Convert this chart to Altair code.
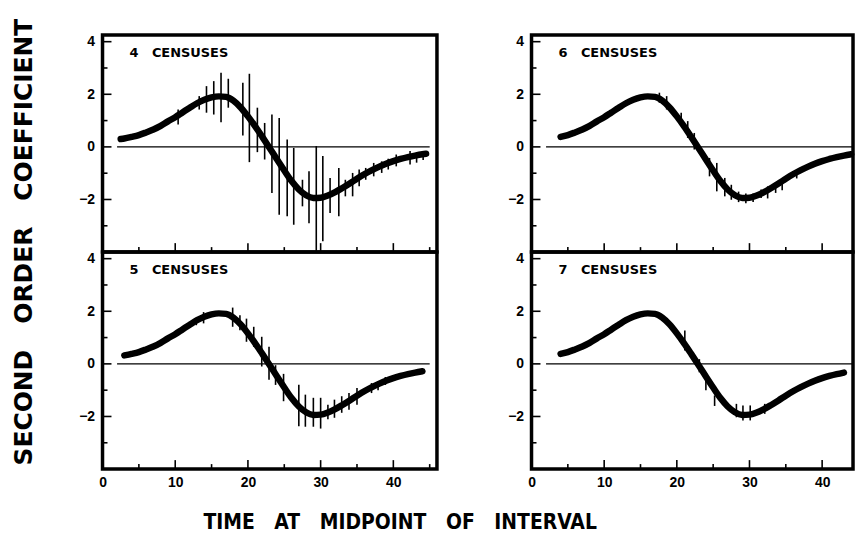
import altair as alt
import pandas as pd

# ---------------- data ----------------
curve_x = [2.5, 3, 4, 5, 6, 7, 8, 9, 10, 11, 12, 13, 14, 15, 16, 17, 18, 19, 20, 21,
           22, 23, 24, 25, 26, 27, 28, 29, 30, 31, 32, 33, 34, 35, 36, 37, 38, 39, 40,
           41, 42, 43, 44, 44.5]
curve_y = [0.30, 0.32, 0.38, 0.45, 0.55, 0.66, 0.80, 0.97, 1.13, 1.31, 1.49, 1.66, 1.79,
           1.88, 1.92, 1.90, 1.76, 1.50, 1.16, 0.78, 0.37, -0.05, -0.48, -0.90, -1.30,
           -1.62, -1.84, -1.94, -1.93, -1.85, -1.72, -1.56, -1.39, -1.21, -1.04, -0.89,
           -0.76, -0.64, -0.54, -0.46, -0.39, -0.33, -0.28, -0.26]

panel_labels = ["4 CENSUSES", "5 CENSUSES", "6 CENSUSES", "7 CENSUSES"]
curve_start = [2.5, 3, 4, 4]
curve_end = [44.5, 44, 44, 43]

bars4_x = [10.4, 13.3, 14.3, 15.3, 16.3, 17.3, 19.3, 20.2, 21.3, 22.3, 23.3, 24.3, 25.4,
           26.3, 27.5, 28.4, 29.4, 30.3, 31.3, 32.5, 33.4, 34.4, 35.3, 36.2, 37.3, 38.4,
           39.3, 40.4, 42.3, 43.2, 44.1]
bars4_lo = [0.85, 1.42, 1.30, 1.23, 0.94, 1.49, 0.43, -0.58, -0.20, -0.48, -1.75, -2.58,
            -2.64, -2.96, -2.26, -2.90, -4.00, -3.59, -2.51, -2.64, -1.88, -1.88, -1.50,
            -1.25, -1.12, -0.99, -0.86, -0.74, -0.67, -0.60, -0.50]
bars4_hi = [1.42, 1.93, 2.31, 2.50, 2.82, 2.59, 2.44, 2.78, 1.49, 0.91, 1.23, 1.10, 0.28,
            -0.04, -1.25, -0.93, 0.03, -0.35, -1.18, -0.80, -1.25, -0.99, -0.86, -0.80,
            -0.61, -0.55, -0.45, -0.29, -0.16, -0.22, -0.18]

bars5_x = [12.9, 13.9, 17.9, 18.9, 19.8, 20.8, 21.9, 22.9, 23.8, 24.9, 27.0, 27.9, 29.0,
           30.0, 31.0, 31.9, 32.9, 33.9, 35.0, 37.0, 37.9, 38.9]
bars5_lo = [1.47, 1.54, 1.41, 1.28, 0.84, 0.65, -0.10, -0.60, -0.80, -1.42, -2.37, -2.39,
            -2.39, -2.46, -2.11, -2.05, -1.86, -1.74, -1.55, -1.11, -1.00, -0.80]
bars5_hi = [1.72, 1.97, 2.14, 1.85, 1.72, 1.41, 1.03, 0.65, -0.05, -0.38, -0.79, -1.17,
            -1.29, -1.29, -1.55, -1.36, -1.23, -1.11, -0.92, -0.73, -0.66, -0.50]

bars6_x = [17.6, 18.6, 20.6, 21.5, 22.4, 24.5, 25.5, 26.6, 27.5, 28.5, 29.5, 30.5, 31.6,
           32.5, 33.6, 34.5, 36.5]
bars6_lo = [1.68, 1.42, 0.79, 0.34, -0.10, -1.12, -1.69, -1.88, -2.01, -2.10, -2.14, -2.10,
            -1.94, -1.96, -1.75, -1.65, -1.20]
bars6_hi = [2.06, 1.93, 1.30, 0.98, 0.53, -0.42, -0.61, -1.18, -1.44, -1.70, -1.77, -1.77,
            -1.62, -1.50, -1.37, -1.30, -0.90]

bars7_x = [21.1, 23.1, 24.0, 25.2, 28.2, 29.1, 30.1, 32.1]
bars7_lo = [0.51, -0.32, -1.00, -1.60, -2.03, -2.15, -2.15, -1.90]
bars7_hi = [1.27, 0.18, -0.60, -1.20, -1.52, -1.58, -1.58, -1.52]

y_title = "SECOND ORDER COEFFICIENT"
x_title = "TIME AT MIDPOINT OF INTERVAL"
y_label_vals = [-2, 0, 2, 4]
x_label_vals = [0, 10, 20, 30, 40]
y_major = [-2, 0, 2, 4]
y_minor = [-3, -1, 1, 3]
x_major = [10, 20, 30, 40]
x_minor = [5, 15, 25, 35, 45]
zero_span = [2, 45]

# ---------------- layout / style ----------------
W_L, W_R, H = 336, 323, 218
X_MAX_L, X_MAX_R = 46, 44.25
Y_DOM = [-4, 4.25]
LABEL_FONT = "Liberation Sans"
NB = "\u00a0"


def spaced(s, n):
    return s.replace(" ", NB * n)


def one_row(**kw):
    return pd.DataFrame({k: [v] for k, v in kw.items()})


def panel(i, bx, blo, bhi, width, xmax, bottom, extras):
    xs = alt.Scale(domain=[0, xmax], nice=False, zero=False, clamp=True)
    ys = alt.Scale(domain=Y_DOM, nice=False, zero=False)
    if bottom:
        xaxis = alt.Axis(values=x_label_vals, ticks=False, tickSize=0, domain=False,
                         grid=False, title=None, labelPadding=7, labelFlush=False,
                         labelFont=LABEL_FONT, labelFontSize=14, labelFontWeight="bold",
                         labelColor="black")
    else:
        xaxis = None
    yaxis = alt.Axis(values=y_label_vals, ticks=False, tickSize=0, domain=False,
                     grid=False, title=None, labelPadding=8, labelFont=LABEL_FONT,
                     labelFontSize=14, labelFontWeight="bold", labelColor="black")

    def X(f):
        return alt.X(f, type="quantitative", scale=xs, axis=xaxis)

    def Y(f):
        return alt.Y(f, type="quantitative", scale=ys, axis=yaxis)

    zero = alt.Chart(one_row(x0=zero_span[0], x1=zero_span[1], y=0)).mark_rule(
        color="black", strokeWidth=1.3).encode(x=X("x0"), x2=alt.X2("x1"), y=Y("y"))
    ytm = alt.Chart(pd.DataFrame({"v": y_major})).mark_rule(
        color="black", strokeWidth=1.6).encode(y=Y("v"), x=alt.value(0), x2=alt.value(9))
    ytn = alt.Chart(pd.DataFrame({"v": y_minor})).mark_rule(
        color="black", strokeWidth=1.6).encode(y=Y("v"), x=alt.value(0), x2=alt.value(5))
    xtm = alt.Chart(pd.DataFrame({"v": [v for v in x_major if v < xmax]})).mark_rule(
        color="black", strokeWidth=1.6).encode(x=X("v"), y=alt.value(H), y2=alt.value(H - 9))
    xtn = alt.Chart(pd.DataFrame({"v": [v for v in x_minor if v < xmax]})).mark_rule(
        color="black", strokeWidth=1.6).encode(x=X("v"), y=alt.value(H), y2=alt.value(H - 5))
    bars = alt.Chart(pd.DataFrame({"x": bx, "lo": blo, "hi": bhi})).mark_rule(
        color="black", strokeWidth=1.6).encode(x=X("x"), y=Y("lo"), y2=alt.Y2("hi"))
    cdf = pd.DataFrame({"x": curve_x, "y": curve_y})
    cdf = cdf[(cdf.x >= curve_start[i]) & (cdf.x <= curve_end[i])]
    curve = alt.Chart(cdf).mark_line(
        color="black", strokeWidth=6.5, strokeCap="round", strokeJoin="round",
        interpolate="monotone").encode(x=X("x"), y=Y("y"))
    label = alt.Chart(one_row(t=spaced(panel_labels[i], 3))).mark_text(
        align="left", baseline="alphabetic", font="DejaVu Sans", fontSize=13,
        fontWeight="bold", color="black").encode(x=alt.value(27), y=alt.value(22), text="t:N")
    return alt.layer(zero, ytm, ytn, xtm, xtn, bars, curve, label, *extras).properties(
        width=width, height=H)


ytitle = alt.Chart(one_row(t=spaced(y_title, 3))).mark_text(
    angle=270, align="center", baseline="middle", font="DejaVu Sans", fontSize=25,
    fontWeight="bold", color="black").encode(x=alt.value(-79), y=alt.value(208), text="t:N")
xtitle = alt.Chart(one_row(t=spaced(x_title, 3))).mark_text(
    align="center", baseline="alphabetic", font="DejaVu Sans Condensed, DejaVu Sans",
    fontSize=21, fontWeight="bold", color="black").encode(
    x=alt.value(299), y=alt.value(278), text="t:N")
anchor_tl = alt.Chart(one_row(a=0)).mark_rect(opacity=0).encode(
    x=alt.value(-101), x2=alt.value(-100), y=alt.value(-32), y2=alt.value(-31))
anchor_b = alt.Chart(one_row(a=0)).mark_rect(opacity=0).encode(
    x=alt.value(0), x2=alt.value(1), y=alt.value(289), y2=alt.value(290))
anchor_r = alt.Chart(one_row(a=0)).mark_rect(opacity=0).encode(
    x=alt.value(324), x2=alt.value(325), y=alt.value(0), y2=alt.value(1))

p4 = panel(0, bars4_x, bars4_lo, bars4_hi, W_L, X_MAX_L, False, [ytitle, anchor_tl])
p5 = panel(1, bars5_x, bars5_lo, bars5_hi, W_L, X_MAX_L, True, [xtitle, anchor_b])
p6 = panel(2, bars6_x, bars6_lo, bars6_hi, W_R, X_MAX_R, False, [anchor_r])
p7 = panel(3, bars7_x, bars7_lo, bars7_hi, W_R, X_MAX_R, True, [])

chart = alt.concat(p4, p6, p5, p7, columns=2, spacing={"row": 0, "column": 95},
                   bounds="flush").properties(
    padding=0, background="white"
).configure_view(stroke="black", strokeWidth=3.5)

chart.save("out.html", embed_options={"renderer": "svg", "actions": False})
